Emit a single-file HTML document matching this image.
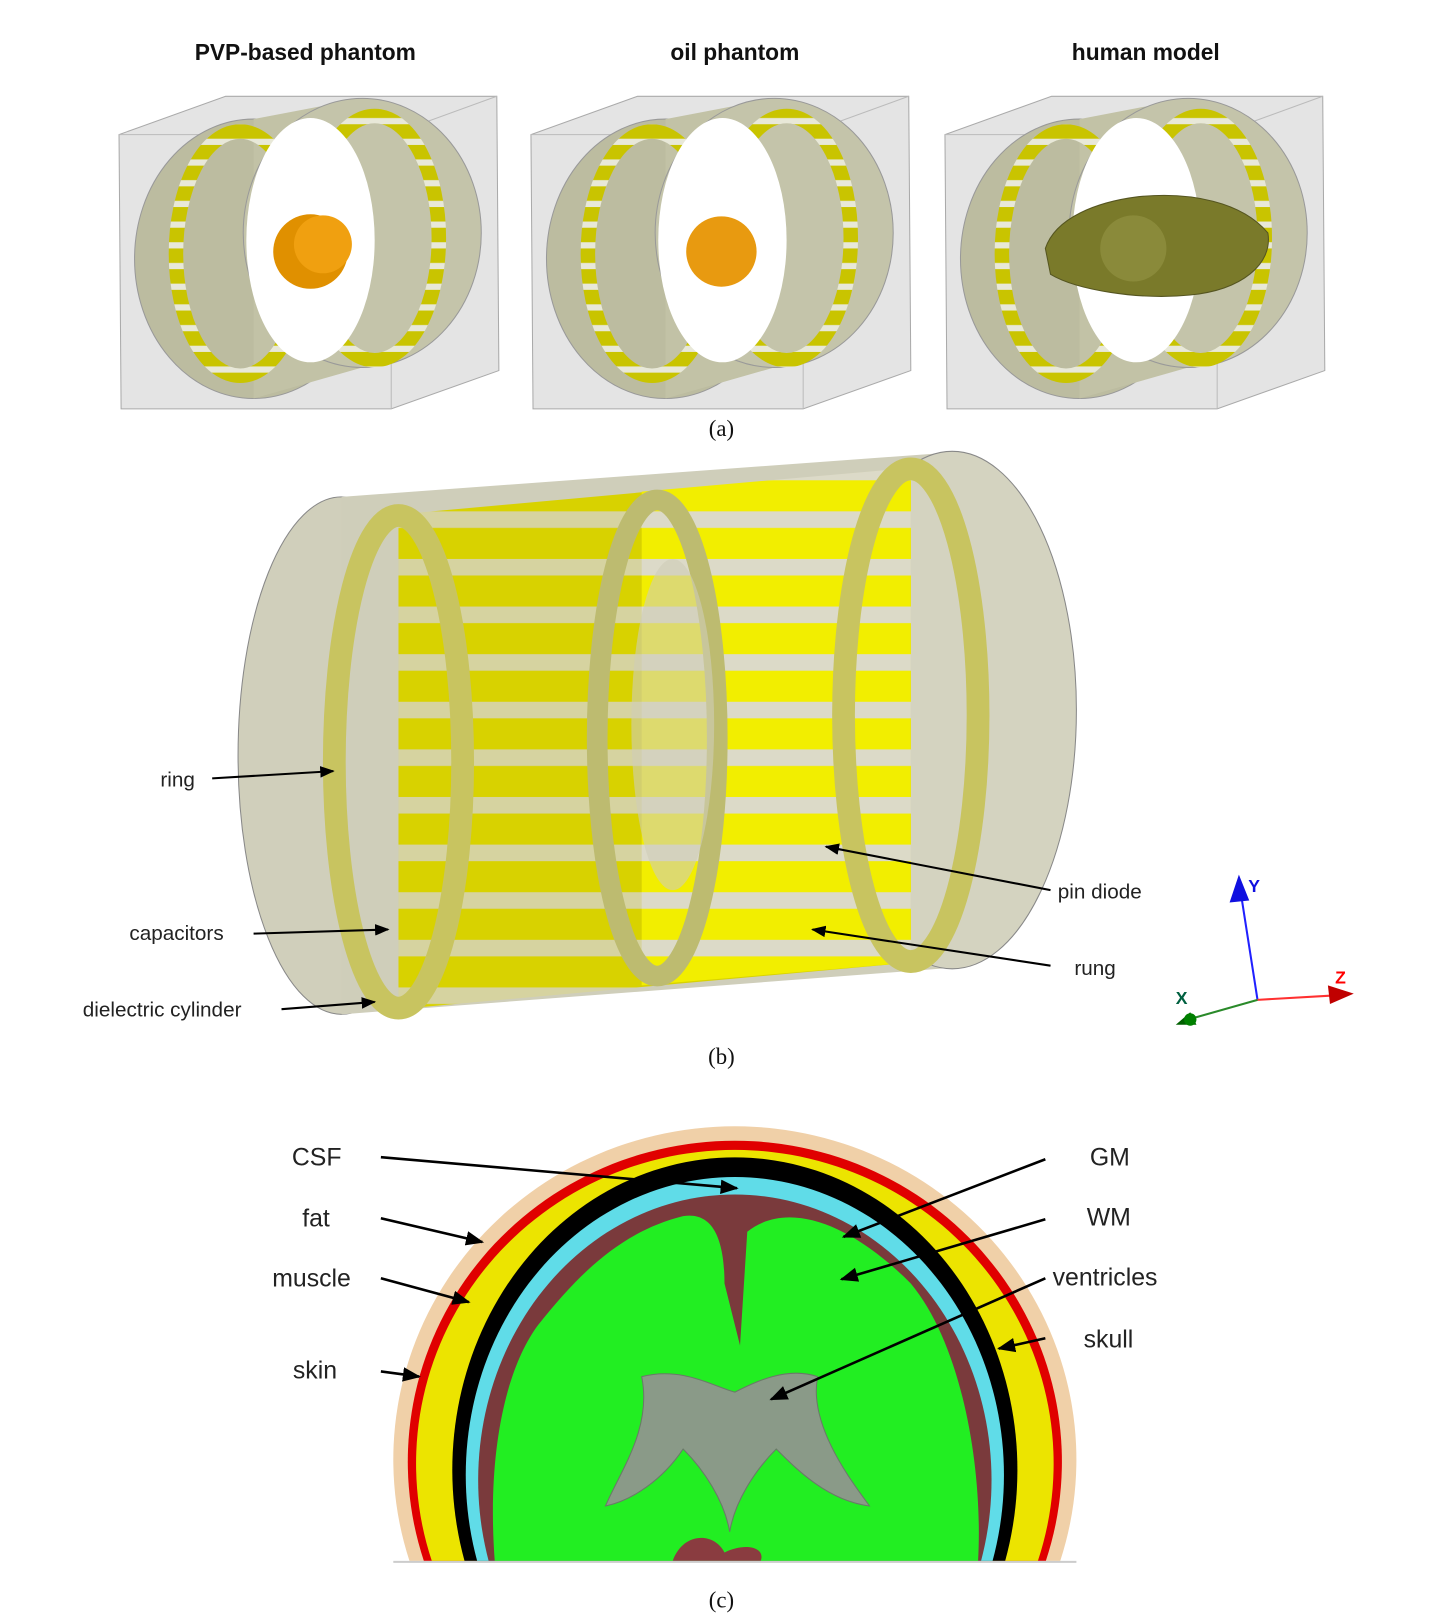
<!DOCTYPE html>
<html><head><meta charset="utf-8"><style>
html,body{margin:0;padding:0;background:#fff;width:1449px;height:1624px;overflow:hidden}
svg{display:block;position:absolute;left:0;top:0}
text{font-family:"Liberation Sans",sans-serif;fill:#222}
.cap{font-family:"Liberation Serif",serif;font-size:22px;fill:#111}
.t{font-size:22px;font-weight:bold;fill:#111}
.lb{font-size:20px}
.lc{font-size:24px}
</style></head><body>
<svg width="1449" height="1624" viewBox="0 0 1400 1569" overflow="hidden" xmlns="http://www.w3.org/2000/svg">
<defs>
<marker id="ar" viewBox="0 0 10 10" refX="9" refY="5" markerWidth="7" markerHeight="7" orient="auto"><path d="M0,1 L10,5 L0,9 z" fill="#000"/></marker>
<pattern id="rs" width="20" height="20" patternUnits="userSpaceOnUse"><rect width="20" height="20" fill="#c9c400"/><rect y="14" width="20" height="6" fill="#e8e8d8"/></pattern>
<pattern id="rb" width="40" height="46" patternUnits="userSpaceOnUse"><rect width="40" height="46" fill="#d6d3a0"/><rect y="4" width="40" height="30" fill="#d8d200"/></pattern>
<pattern id="rb2" width="40" height="46" patternUnits="userSpaceOnUse"><rect width="40" height="46" fill="#dcdac8"/><rect y="4" width="40" height="30" fill="#f2ee00"/></pattern>
<g id="pa">
<polygon points="115,130 218,93 480,93 482,358 378,395 117,395" fill="#e4e4e4" stroke="#aaa"/>
<line x1="115" y1="130" x2="378" y2="130" stroke="#bbb"/><line x1="378" y1="130" x2="480" y2="93" stroke="#bbb"/><line x1="378" y1="130" x2="378" y2="395" stroke="#bbb"/>
<ellipse cx="245" cy="250" rx="115" ry="135" fill="#bcbca0" stroke="#999"/>
<polygon points="245,115 350,95 350,355 245,385" fill="#c2c2a6"/>
<ellipse cx="350" cy="225" rx="115" ry="130" fill="#c4c4aa" stroke="#999"/>
<ellipse cx="232" cy="245" rx="62" ry="118" fill="none" stroke="url(#rs)" stroke-width="14"/>
<ellipse cx="362" cy="230" rx="62" ry="118" fill="none" stroke="url(#rs)" stroke-width="14"/>
<ellipse cx="300" cy="232" rx="62" ry="118" fill="#fff"/>
</g>
</defs>
<text x="295" y="58" text-anchor="middle" class="t">PVP-based  phantom</text>
<text x="710" y="58" text-anchor="middle" class="t">oil phantom</text>
<text x="1107" y="58" text-anchor="middle" class="t">human model</text>
<use href="#pa"/>
<circle cx="300" cy="243" r="36" fill="#e09000"/><circle cx="312" cy="236" r="28" fill="#f0a010"/>
<use href="#pa" x="398"/>
<circle cx="697" cy="243" r="34" fill="#e89a10"/>
<use href="#pa" x="798"/>
<path d="M1010,240 C1020,210 1060,195 1100,190 C1150,185 1200,195 1225,225 C1230,255 1200,280 1150,285 C1100,290 1040,280 1015,265 Z" fill="#7a7a2a" stroke="#555520"/>
<circle cx="1095" cy="240" r="32" fill="#8a8a3a"/>
<text x="697" y="421" text-anchor="middle" class="cap">(a)</text>

<!-- (b) -->
<ellipse cx="330" cy="730" rx="100" ry="250" fill="#d0cfbb" stroke="#888"/>
<polygon points="330,480 920,437 920,935 330,980" fill="#cfceba"/>
<ellipse cx="920" cy="686" rx="120" ry="250" fill="#d4d3c0" stroke="#888"/>
<polygon points="385,497 880,452 880,930 385,975" fill="url(#rb)"/>
<polygon points="620,475 880,452 880,930 620,952" fill="url(#rb2)"/>
<ellipse cx="385" cy="736" rx="62" ry="238" fill="none" stroke="#c8c460" stroke-width="22"/>
<ellipse cx="880" cy="691" rx="65" ry="238" fill="none" stroke="#c8c460" stroke-width="22"/>
<ellipse cx="635" cy="713" rx="58" ry="230" fill="none" stroke="#bdbb70" stroke-width="20"/>
<ellipse cx="650" cy="700" rx="40" ry="160" fill="#cfcdb8" opacity="0.6"/>
<text x="155" y="760" class="lb">ring</text>
<line x1="205" y1="752" x2="322" y2="745" stroke="#000" stroke-width="2" marker-end="url(#ar)"/>
<text x="125" y="908" class="lb">capacitors</text>
<line x1="245" y1="902" x2="375" y2="898" stroke="#000" stroke-width="2" marker-end="url(#ar)"/>
<text x="80" y="982" class="lb">dielectric cylinder</text>
<line x1="272" y1="975" x2="362" y2="968" stroke="#000" stroke-width="2" marker-end="url(#ar)"/>
<text x="1022" y="868" class="lb">pin diode</text>
<line x1="1015" y1="860" x2="798" y2="818" stroke="#000" stroke-width="2" marker-end="url(#ar)"/>
<text x="1038" y="942" class="lb">rung</text>
<line x1="1015" y1="933" x2="785" y2="898" stroke="#000" stroke-width="2" marker-end="url(#ar)"/>
<line x1="1215" y1="966" x2="1200" y2="870" stroke="#2020ff" stroke-width="2"/>
<polygon points="1197,845 1188,872 1207,870" fill="#1010e0"/>
<text x="1206" y="862" style="font-size:17px;font-weight:bold;fill:#1010e0">Y</text>
<line x1="1215" y1="966" x2="1285" y2="962" stroke="#ff3030" stroke-width="2"/>
<polygon points="1308,960 1283,952 1285,970" fill="#c00000"/>
<text x="1290" y="950" style="font-size:17px;font-weight:bold;fill:#f00">Z</text>
<line x1="1215" y1="966" x2="1148" y2="985" stroke="#2a8a2a" stroke-width="2"/>
<polygon points="1136,990 1150,978 1156,990" fill="#006000"/><circle cx="1150" cy="985" r="6" fill="#008000"/>
<text x="1136" y="970" style="font-size:17px;font-weight:bold;fill:#006040">X</text>
<text x="697" y="1028" text-anchor="middle" class="cap">(b)</text>

<!-- (c) -->
<path d="M395.6,1508 A330,322 0 1,1 1024.4,1508 Z" fill="#f0d0a8"/>
<path d="M409.5,1508 A316,310 0 1,1 1010.5,1508 Z" fill="#e00000"/>
<path d="M417.2,1508 A308,303 0 1,1 1002.8,1508 Z" fill="#ece400"/>
<path d="M448.8,1508 A273,302 0 1,1 971.2,1508 Z" fill="#000"/>
<path d="M461,1508 A260,288 0 1,1 959,1508 Z" fill="#60dce8"/>
<path d="M472.1,1508 A248,276 0 1,1 947.9,1508 Z" fill="#7a3a3c"/>
<path d="M478,1508 C470,1400 490,1320 520,1280 C560,1230 600,1190 660,1175 C690,1170 700,1200 700,1240 L715,1300 L722,1190 C760,1160 820,1180 880,1240 C930,1300 950,1420 945,1508 Z" fill="#22ee22"/>
<path d="M650,1508 C660,1480 690,1480 700,1500 C720,1490 740,1495 735,1508 Z" fill="#8a3c40"/>
<path d="M620,1330 C660,1320 690,1340 710,1345 C730,1335 760,1320 790,1330 C780,1380 830,1440 840,1455 C800,1450 770,1420 750,1400 C730,1420 710,1450 705,1480 C700,1450 680,1420 660,1400 C640,1430 610,1450 585,1455 C600,1420 630,1380 620,1330 Z" fill="#8a9a88" stroke="#6a7a68"/>
<line x1="380" y1="1509" x2="1040" y2="1509" stroke="#ccc" stroke-width="2"/>
<text x="282" y="1126" class="lc">CSF</text>
<text x="292" y="1185" class="lc">fat</text>
<text x="263" y="1243" class="lc">muscle</text>
<text x="283" y="1332" class="lc">skin</text>
<text x="1053" y="1126" class="lc">GM</text>
<text x="1050" y="1184" class="lc">WM</text>
<text x="1017" y="1242" class="lc">ventricles</text>
<text x="1047" y="1302" class="lc">skull</text>
<g stroke="#000" stroke-width="2.5" marker-end="url(#ar)">
<line x1="368" y1="1118" x2="712" y2="1148"/>
<line x1="368" y1="1177" x2="466" y2="1200"/>
<line x1="368" y1="1235" x2="453" y2="1258"/>
<line x1="368" y1="1325" x2="405" y2="1330"/>
<line x1="1010" y1="1120" x2="815" y2="1195"/>
<line x1="1010" y1="1178" x2="813" y2="1236"/>
<line x1="1010" y1="1235" x2="745" y2="1352"/>
<line x1="1010" y1="1293" x2="965" y2="1303"/>
</g>
<text x="697" y="1553" text-anchor="middle" class="cap">(c)</text>
</svg>
</body></html>
